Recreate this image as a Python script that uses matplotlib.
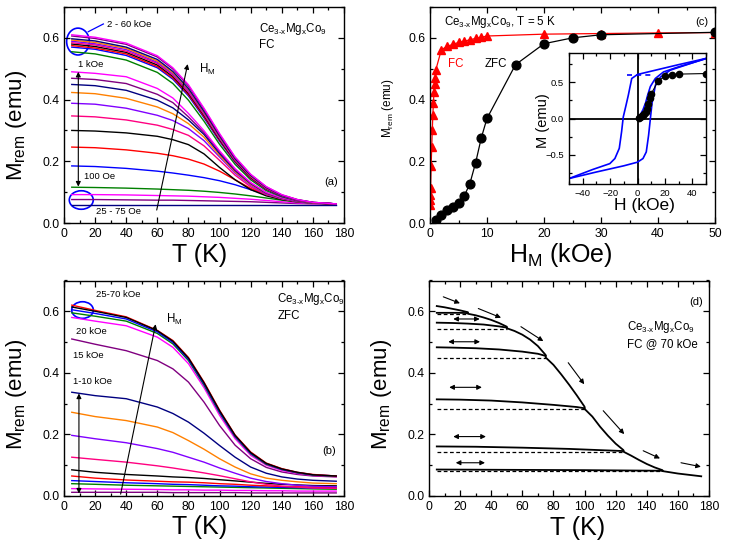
import matplotlib
matplotlib.use('Agg')
import matplotlib.pyplot as plt
from matplotlib.patches import Ellipse
from matplotlib.ticker import MultipleLocator

plt.rcParams['font.family'] = ['Liberation Sans', 'DejaVu Sans']
plt.rcParams['mathtext.fontset'] = 'custom'
plt.rcParams['mathtext.rm'] = 'Liberation Sans'
plt.rcParams['mathtext.it'] = 'Liberation Sans'
plt.rcParams['mathtext.default'] = 'regular'

# ---------------- data ----------------
# temperature grid used for the curves in (a) and (b)
T = [5, 20, 40, 60, 70, 80, 90, 100, 110, 120, 130, 140, 150, 160, 175]

# (a) FC remanence, 25 Oe ... 1 kOe
fc_low = [
    [.059, .059, .059, .059, .059, .059, .059, .059, .059, .059, .059, .059, .059, .059, .059],
    [.076, .076, .075, .074, .074, .073, .072, .071, .070, .069, .067, .065, .063, .062, .061],
    [.092, .092, .091, .089, .088, .087, .085, .083, .080, .077, .073, .069, .065, .063, .061],
    [.116, .115, .113, .110, .108, .106, .103, .099, .094, .088, .081, .074, .068, .064, .061],
    [.185, .183, .177, .168, .162, .155, .147, .137, .124, .108, .093, .080, .071, .066, .062],
    [.246, .244, .237, .226, .218, .207, .191, .168, .140, .112, .092, .079, .070, .065, .062],
    [.300, .298, .292, .281, .270, .254, .224, .180, .140, .108, .088, .076, .069, .065, .062],
    [.347, .344, .334, .317, .303, .284, .250, .203, .155, .117, .092, .078, .069, .065, .062],
    [.388, .385, .372, .349, .332, .306, .267, .214, .162, .122, .094, .079, .070, .065, .062],
    [.423, .419, .404, .376, .354, .322, .278, .219, .166, .125, .096, .080, .070, .065, .062],
    [.449, .445, .430, .398, .373, .334, .287, .225, .170, .128, .097, .081, .070, .065, .062],
    [.469, .465, .452, .417, .390, .344, .293, .230, .173, .130, .098, .081, .071, .065, .062],
    [.490, .485, .474, .436, .405, .355, .299, .234, .176, .131, .099, .082, .071, .065, .062],
]
# (a) FC remanence, 2 ... 60 kOe
fc_high = [
    [.555, .548, .528, .488, .452, .398, .330, .255, .190, .140, .105, .085, .072, .065, .061],
    [.570, .563, .543, .503, .466, .412, .341, .265, .197, .145, .109, .087, .073, .066, .061],
    [.575, .567, .548, .507, .470, .416, .345, .268, .199, .146, .110, .088, .073, .066, .061],
    [.580, .572, .553, .512, .475, .420, .349, .271, .201, .148, .111, .088, .074, .066, .061],
    [.584, .577, .557, .517, .479, .424, .352, .274, .203, .150, .112, .089, .074, .066, .062],
    [.589, .581, .562, .521, .483, .429, .356, .276, .205, .151, .113, .089, .074, .066, .062],
    [.593, .585, .566, .525, .487, .433, .359, .279, .207, .152, .114, .090, .075, .066, .062],
    [.597, .590, .570, .530, .491, .436, .362, .282, .208, .154, .115, .090, .075, .067, .062],
    [.606, .598, .579, .538, .499, .444, .369, .287, .212, .157, .117, .091, .076, .067, .062],
    [.610, .602, .583, .542, .503, .448, .372, .290, .214, .158, .118, .092, .076, .067, .062],
]
# (b) ZFC remanence, 1..10, 15, 20, 25, 30, 40, 50 kOe
zfc_curves = [
    [.012, .012, .012, .012, .011, .011, .011, .011, .011, .010, .010, .010, .010, .010, .010],
    [.024, .023, .022, .021, .020, .020, .019, .019, .018, .018, .017, .017, .016, .016, .016],
    [.040, .038, .035, .033, .032, .031, .030, .029, .028, .027, .026, .025, .024, .023, .022],
    [.050, .047, .043, .040, .038, .037, .035, .033, .032, .030, .029, .028, .027, .026, .025],
    [.065, .058, .052, .048, .046, .045, .043, .040, .038, .035, .033, .031, .030, .029, .028],
    [.085, .077, .070, .065, .062, .060, .057, .053, .049, .045, .041, .038, .036, .034, .033],
    [.126, .119, .110, .098, .091, .083, .075, .066, .056, .046, .038, .032, .029, .026, .025],
    [.197, .186, .173, .154, .142, .126, .110, .091, .074, .058, .047, .040, .035, .032, .030],
    [.272, .258, .245, .224, .206, .180, .152, .121, .094, .072, .058, .051, .046, .042, .040],
    [.337, .326, .316, .289, .268, .240, .204, .164, .126, .094, .074, .062, .055, .051, .048],
    [.510, .493, .472, .440, .413, .370, .305, .229, .165, .121, .093, .078, .070, .065, .062],
    [.580, .568, .553, .516, .483, .430, .352, .262, .186, .132, .100, .083, .073, .067, .063],
    [.595, .584, .568, .528, .494, .440, .360, .270, .192, .137, .103, .086, .075, .068, .064],
    [.605, .593, .575, .533, .499, .444, .364, .273, .194, .139, .105, .087, .076, .069, .065],
    [.620, .603, .582, .538, .505, .450, .370, .279, .198, .143, .107, .089, .077, .070, .065],
    [.614, .600, .580, .537, .503, .448, .368, .277, .197, .141, .106, .088, .077, .069, .065],
]

# (c) remanence at 5 K vs magnetising field
fc_H = [0.025, 0.05, 0.075, 0.1, 0.2, 0.3, 0.4, 0.5, 0.6, 0.7, 0.8, 0.9, 1, 2, 3, 4, 5, 6, 7, 8, 9, 10, 20, 30, 40, 50]
fc_M = [0.058, 0.075, 0.09, 0.115, 0.185, 0.245, 0.30, 0.35, 0.39, 0.425, 0.45, 0.47, 0.495,
        0.562, 0.572, 0.579, 0.585, 0.589, 0.594, 0.598, 0.602, 0.606, 0.612, 0.614, 0.616, 0.617]
zfc_H = [1, 2, 3, 4, 5, 6, 7, 8, 9, 10, 15, 20, 25, 30, 50]
zfc_M = [0.011, 0.027, 0.041, 0.052, 0.065, 0.087, 0.128, 0.195, 0.276, 0.339, 0.513, 0.581, 0.600, 0.610, 0.618]

# (c) inset: hysteresis loop
down_H = [50, 30, 10, 0, -4.2, -6.7, -8.4, -10.4, -11.6, -13.3, -16.5, -20.2, -32.6, -50]
down_M = [0.825, 0.74, 0.65, 0.605, 0.55, 0.32, 0.18, 0.02, -0.18, -0.41, -0.55, -0.62, -0.70, -0.825]
up_H = [-50, -30, -10, 0, 4, 6.4, 8.1, 9.4, 10.6, 13.1, 16.8, 24, 50]
up_M = [-0.825, -0.735, -0.65, -0.60, -0.55, -0.46, -0.23, 0.0, 0.21, 0.46, 0.57, 0.665, 0.826]
virgin_H = [0, 2, 4, 6, 7.4, 9.4, 13, 19, 30, 50]
virgin_M = [0, 0.05, 0.12, 0.22, 0.32, 0.44, 0.55, 0.64, 0.71, 0.822]

# (d) FC @ 70 kOe, step warming / cooling
env_T = [5, 10, 15, 20, 25, 25, 30, 35, 40, 45, 50, 50, 55, 60, 65, 70, 75, 75, 80, 85, 90, 95, 100,
         100, 105, 110, 115, 120, 125, 125, 130, 135, 140, 145, 150, 150, 155, 160, 165, 170, 175]
env_M = [0.617, 0.613, 0.608, 0.603, 0.597, 0.592, 0.587, 0.580, 0.572, 0.562, 0.550, 0.545, 0.536,
         0.524, 0.508, 0.487, 0.458, 0.450, 0.426, 0.395, 0.362, 0.327, 0.290, 0.283, 0.258, 0.225,
         0.196, 0.170, 0.149, 0.144, 0.131, 0.117, 0.104, 0.093, 0.084, 0.081, 0.077, 0.073, 0.070,
         0.067, 0.064]
branch_T = [
    [5, 10, 15, 20, 25],
    [5, 15, 25, 35, 45, 50],
    [5, 15, 30, 45, 60, 70, 75],
    [5, 20, 40, 60, 80, 95, 100],
    [5, 30, 60, 90, 110, 125],
    [5, 50, 100, 150],
]
branch_M = [
    [0.595, 0.595, 0.595, 0.595, 0.594],
    [0.563, 0.562, 0.560, 0.557, 0.551, 0.547],
    [0.483, 0.482, 0.480, 0.476, 0.469, 0.462, 0.455],
    [0.314, 0.313, 0.310, 0.304, 0.296, 0.289, 0.285],
    [0.161, 0.160, 0.157, 0.153, 0.149, 0.146],
    [0.086, 0.085, 0.084, 0.082],
]
step_T = [25, 50, 75, 100, 125, 150]
step_M = [0.590, 0.543, 0.448, 0.282, 0.143, 0.080]

cycle = ['#0000ff', '#ff0000', '#000000', '#ff0080', '#8000ff',
         '#ff8000', '#000080', '#800080', '#ff00ff', '#008000']

# ---------------- figure ----------------
W, H = 733, 548
fig = plt.figure(figsize=(W / 100, H / 100), dpi=100)


def box(l, t, r, b):
    return [l / W, (H - b) / H, (r - l) / W, (b - t) / H]


def style(ax, xmaj, xmin, ymaj, ymin, ls=8.8):
    ax.xaxis.set_major_locator(MultipleLocator(xmaj))
    ax.xaxis.set_minor_locator(MultipleLocator(xmin))
    ax.yaxis.set_major_locator(MultipleLocator(ymaj))
    ax.yaxis.set_minor_locator(MultipleLocator(ymin))
    ax.tick_params(which='both', direction='in', top=True, right=True,
                   labelsize=ls, width=0.9)
    ax.tick_params(which='major', length=4.5)
    ax.tick_params(which='minor', length=2.5)
    for s in ax.spines.values():
        s.set_linewidth(1.0)


def labels(ax, xl, xpos, yl, ypos, xs=18, ys=16):
    ax.set_xlabel(xl, fontsize=xs, va='center', ha='center')
    ax.set_ylabel(yl, fontsize=ys, va='center', ha='center')
    ax.xaxis.set_label_coords(*xpos)
    ax.yaxis.set_label_coords(*ypos)


def arrow(ax, tail, head, style='-|>', lw=0.8):
    ax.annotate('', xy=head, xytext=tail,
                arrowprops=dict(arrowstyle=style, color='k', lw=lw,
                                mutation_scale=7, shrinkA=0, shrinkB=0))


mrem = r'M$_{rem}$ (emu)'
ceco = r'Ce$_{3\text{-}x}$Mg$_x$Co$_9$'

# ---- (a) ----
ax = fig.add_axes(box(64, 7, 344, 223))
for i, m in enumerate(fc_low):
    ax.plot(T, m, color=cycle[(6 + i) % 10], lw=1.0)
for i, m in enumerate(fc_high):
    ax.plot(T, m, color=cycle[(9 + i) % 10], lw=1.0)
ax.set_xlim(0, 180)
ax.set_ylim(0, 0.7)
style(ax, 20, 10, 0.2, 0.1)
labels(ax, 'T (K)', (0.484, -0.148), mrem, (-0.168, 0.45))
ax.add_patch(Ellipse((9.0, 0.588), 14.6, 0.087, fill=False, ec='#0000ff', lw=1.2))
ax.plot([15.6, 25.3], [0.620, 0.645], color='#0000ff', lw=0.9)
ax.text(27.6, 0.643, '2 - 60 kOe', fontsize=6.8, va='center')
ax.text(9.2, 0.514, '1 kOe', fontsize=6.8, va='center')
arrow(ax, (9.2, 0.118), (9.2, 0.49), '<|-|>')
ax.text(12.9, 0.150, '100 Oe', fontsize=6.8, va='center')
ax.add_patch(Ellipse((11.1, 0.0745), 15.4, 0.060, fill=False, ec='#0000ff', lw=1.2))
ax.text(20.6, 0.037, '25 - 75 Oe', fontsize=6.8, va='center')
arrow(ax, (59.6, 0.042), (79.5, 0.515))
ax.text(86.8, 0.496, r'H$_M$', fontsize=8.3, va='center')
ax.text(125.4, 0.628, ceco, fontsize=8.3, va='center')
ax.text(125.4, 0.578, 'FC', fontsize=8.3, va='center')
ax.text(167.1, 0.134, '(a)', fontsize=8, va='center')

# ---- (b) ----
ax = fig.add_axes(box(64, 280.5, 344, 496))
for i, m in enumerate(zfc_curves):
    ax.plot(T, m, color=cycle[(7 + i) % 10], lw=1.0)
ax.set_xlim(0, 180)
ax.set_ylim(0, 0.7)
style(ax, 20, 10, 0.2, 0.1)
labels(ax, 'T (K)', (0.484, -0.142), mrem, (-0.168, 0.469))
ax.add_patch(Ellipse((11.9, 0.604), 13.9, 0.054, fill=False, ec='#0000ff', lw=1.2))
ax.text(20.6, 0.653, '25-70 kOe', fontsize=6.8, va='center')
ax.text(7.7, 0.534, '20 kOe', fontsize=6.8, va='center')
ax.text(5.6, 0.455, '15 kOe', fontsize=6.8, va='center')
ax.text(5.6, 0.371, '1-10 kOe', fontsize=6.8, va='center')
arrow(ax, (9.6, 0.008), (9.6, 0.333), '<|-|>')
arrow(ax, (36.4, 0.006), (58.9, 0.558))
ax.text(65.4, 0.572, r'H$_M$', fontsize=8.3, va='center')
ax.text(137.1, 0.640, ceco, fontsize=8.3, va='center')
ax.text(137.1, 0.585, 'ZFC', fontsize=8.3, va='center')
ax.text(166, 0.147, '(b)', fontsize=8, va='center')

# ---- (c) ----
ax = fig.add_axes(box(430, 7, 715, 223))
ax.plot(fc_H, fc_M, color='#ff0000', lw=0.9, marker='^', ms=6, mec='#ff0000')
ax.plot(zfc_H, zfc_M, color='k', lw=0.9, marker='o', ms=6.3)
ax.set_xlim(0, 50)
ax.set_ylim(0, 0.7)
style(ax, 10, 5, 0.2, 0.1)
labels(ax, r'H$_M$ (kOe)', (0.459, -0.148), mrem, (-0.147, 0.532), ys=8.5)
ax.text(2.5, 0.652, ceco + ', T = 5 K', fontsize=8.3, va='center')
ax.text(46.5, 0.652, '(c)', fontsize=8, va='center')
ax.text(3.2, 0.514, 'FC', fontsize=8.3, va='center', color='#ff0000')
ax.text(9.5, 0.514, 'ZFC', fontsize=8.3, va='center')

# inset
ins = fig.add_axes(box(569, 53, 706, 184))
ins.axhline(0, color='k', lw=1.3)
ins.axvline(0, color='k', lw=1.3)
ins.plot(down_H, down_M, color='#0000ff', lw=1.2)
ins.plot(up_H, up_M, color='#0000ff', lw=1.2)
ins.plot(virgin_H, virgin_M, color='#0000ff', lw=1.2)
ins.plot([-7.5, 12], [0.6, 0.6], color='#0000ff', lw=1.2, ls=(0, (3, 2.5)))
ins.plot(zfc_H, zfc_M, color='k', lw=0.8, marker='o', ms=4.5)
ins.set_xlim(-50, 50)
ins.set_ylim(-0.9, 0.9)
style(ins, 20, 10, 0.5, 0.25, ls=6.8)
labels(ins, 'H (kOe)', (0.549, -0.166), 'M (emu)', (-0.19, 0.482), xs=12.5, ys=10.5)

# ---- (d) ----
ax = fig.add_axes(box(429, 280.5, 709, 496))
ax.plot(env_T, env_M, color='k', lw=1.3)
for bt, bm in zip(branch_T, branch_M):
    ax.plot(bt, bm, color='k', lw=1.3)
for st, sm in zip(step_T, step_M):
    ax.plot([5, st], [sm, sm], color='k', lw=0.9, ls=(0, (3, 2)))
ax.set_xlim(0, 180)
ax.set_ylim(0, 0.7)
style(ax, 20, 10, 0.2, 0.1)
labels(ax, 'T (K)', (0.532, -0.148), mrem, (-0.170, 0.469))
for tail, head in [((9.2, 0.647), (19.9, 0.626)), ((31.7, 0.609), (46.3, 0.579)),
                   ((59.1, 0.550), (73.5, 0.503)), ((89.5, 0.433), (99.8, 0.363)),
                   ((112, 0.277), (125.5, 0.201)), ((137.7, 0.147), (148.5, 0.122)),
                   ((162, 0.108), (174.8, 0.095))]:
    arrow(ax, tail, head)
for y, x0, x1 in [(0.575, 15.6, 32.6), (0.501, 12.4, 32.8), (0.353, 13.0, 34.0),
                  (0.193, 15.6, 36.6), (0.108, 17.2, 36.0)]:
    arrow(ax, (x0, y), (x1, y), '<|-|>')
ax.text(171.6, 0.63, '(d)', fontsize=8, va='center', ha='center')
ax.text(127.3, 0.548, ceco, fontsize=8.3, va='center')
ax.text(127.3, 0.493, 'FC @ 70 kOe', fontsize=8.3, va='center')

fig.savefig('out.png', dpi=100)
